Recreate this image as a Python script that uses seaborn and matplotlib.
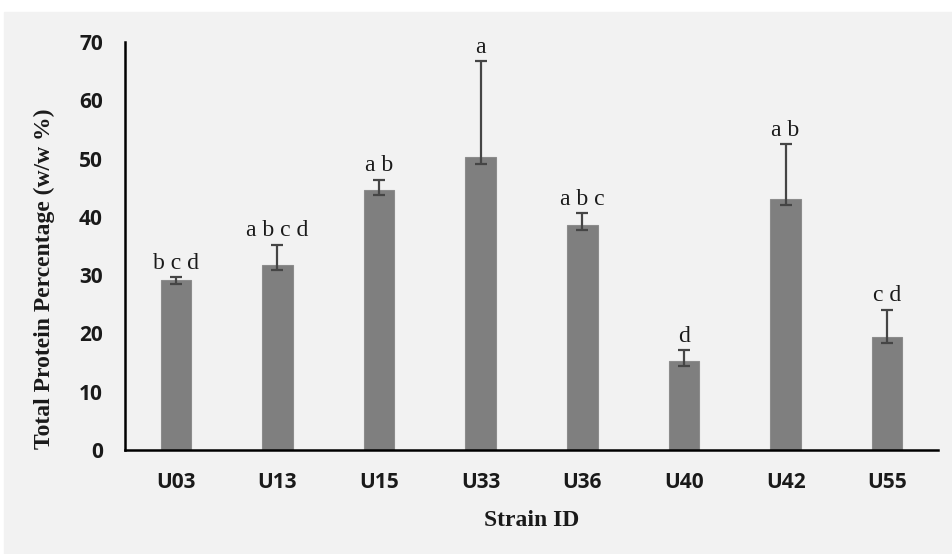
import pandas as pd
import matplotlib.pyplot as plt
import seaborn as sns
from matplotlib.patches import Rectangle

# ============================================
# DATA
# ============================================
strains = ["U03", "U13", "U15", "U33", "U36", "U40", "U42", "U55"]
protein = [29.2, 31.7, 44.6, 50.2, 38.6, 15.2, 43.1, 19.4]
err_up = [0.4, 3.5, 1.8, 16.5, 2.0, 1.9, 9.4, 4.7]
err_down = [0.7, 0.9, 0.9, 1.1, 0.9, 0.8, 1.1, 1.1]
groups = ["b c d", "a b c d", "a b", "a", "a b c", "d", "a b", "c d"]

df = pd.DataFrame({"Strain": strains, "Protein": protein})

# ============================================
# PLOT
# ============================================
sns.set_style("white")
plt.rcParams["font.family"] = ["DejaVu Sans"]

fig = plt.figure(figsize=(9.52, 5.54), dpi=100, facecolor="white")
fig.patches.append(Rectangle((4 / 952, 0), 1, (554 - 12) / 554,
                             transform=fig.transFigure, color="#f2f2f2", zorder=-10))

ax = fig.add_axes([125 / 952, 104 / 554, 813 / 952, 408 / 554])
ax.set_facecolor("#f2f2f2")

sns.barplot(data=df, x="Strain", y="Protein", color="#7f7f7f", width=0.3,
            saturation=1, errorbar=None, edgecolor="#8c8c8c", linewidth=0.8, ax=ax)

ax.errorbar(range(len(strains)), protein, yerr=[err_down, err_up], fmt="none",
            ecolor="#454545", elinewidth=1.6, capsize=4.5, capthick=1.6, zorder=3)

# significance letters above the error bars
for i, lab in enumerate(groups):
    ax.annotate(lab, (i, protein[i] + err_up[i]), xytext=(0, 2.5), textcoords="offset points",
                ha="center", va="bottom", fontsize=17, family="Liberation Serif",
                color="#1a1a1a")

ax.set_ylim(0, 70)
ax.set_xlim(-0.5, len(strains) - 0.5)
ax.set_yticks(range(0, 71, 10))

for s in ["top", "right"]:
    ax.spines[s].set_visible(False)
for s in ["left", "bottom"]:
    ax.spines[s].set_color("black")
    ax.spines[s].set_linewidth(1.8)

ax.tick_params(axis="both", length=0)
ax.tick_params(axis="y", pad=16)
ax.tick_params(axis="x", pad=16)
for t in ax.get_xticklabels() + ax.get_yticklabels():
    t.set_fontfamily("Open Sans")
    t.set_fontweight("bold")
    t.set_fontsize(15)
    t.set_color("#1a1a1a")

ax.set_xlabel("Strain ID", fontsize=17, fontweight="bold", family="Liberation Serif",
              color="#1a1a1a")
ax.set_ylabel("Total Protein Percentage (w/w %)", fontsize=17, fontweight="bold",
              family="Liberation Serif", color="#1a1a1a")
ax.xaxis.set_label_coords(0.5, -0.147)
ax.yaxis.set_label_coords(-0.086, 0.42)

plt.savefig("out.png", dpi=100, facecolor=fig.get_facecolor())
